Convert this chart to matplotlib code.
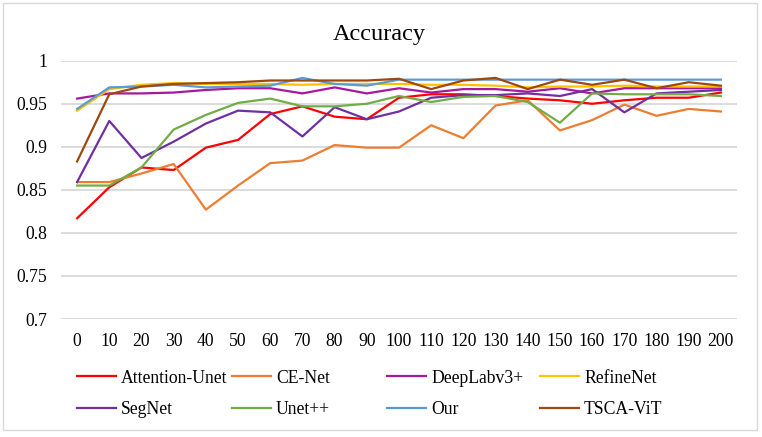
import matplotlib
matplotlib.use("Agg")
import matplotlib.pyplot as plt
from matplotlib.patches import Rectangle

# data
epochs = list(range(0, 201, 10))
attention_unet = [0.817, 0.853, 0.876, 0.873, 0.899, 0.908, 0.938, 0.947, 0.935, 0.932, 0.957,
                  0.961, 0.961, 0.959, 0.956, 0.954, 0.950, 0.954, 0.957, 0.957, 0.963]
ce_net = [0.859, 0.859, 0.869, 0.880, 0.827, 0.855, 0.881, 0.884, 0.902, 0.899, 0.899,
          0.925, 0.910, 0.948, 0.954, 0.919, 0.931, 0.949, 0.936, 0.944, 0.941]
deeplabv3 = [0.956, 0.962, 0.962, 0.963, 0.966, 0.968, 0.968, 0.962, 0.969, 0.962, 0.968,
             0.963, 0.967, 0.967, 0.964, 0.968, 0.962, 0.968, 0.968, 0.968, 0.968]
refinenet = [0.942, 0.967, 0.972, 0.974, 0.973, 0.973, 0.973, 0.972, 0.973, 0.973, 0.973,
             0.972, 0.972, 0.971, 0.969, 0.970, 0.970, 0.971, 0.970, 0.970, 0.970]
segnet = [0.859, 0.930, 0.887, 0.906, 0.927, 0.942, 0.940, 0.912, 0.946, 0.932, 0.941,
          0.957, 0.960, 0.960, 0.962, 0.959, 0.967, 0.940, 0.962, 0.964, 0.966]
unetpp = [0.855, 0.855, 0.876, 0.920, 0.937, 0.951, 0.956, 0.947, 0.947, 0.950, 0.959,
          0.952, 0.958, 0.959, 0.952, 0.928, 0.962, 0.961, 0.961, 0.961, 0.959]
our = [0.944, 0.969, 0.970, 0.972, 0.969, 0.970, 0.971, 0.980, 0.973, 0.971, 0.978,
       0.978, 0.978, 0.978, 0.978, 0.978, 0.978, 0.978, 0.978, 0.978, 0.978]
tsca_vit = [0.883, 0.961, 0.970, 0.973, 0.974, 0.975, 0.977, 0.977, 0.977, 0.977, 0.979,
            0.967, 0.977, 0.980, 0.967, 0.978, 0.972, 0.978, 0.968, 0.975, 0.971]

names = ["Attention-Unet", "CE-Net", "DeepLabv3+", "RefineNet",
         "SegNet", "Unet++", "Our", "TSCA-ViT"]
series = [attention_unet, ce_net, deeplabv3, refinenet, segnet, unetpp, our, tsca_vit]
colors = ["#FF0000", "#ED7D31", "#A6189E", "#FFC000",
          "#7030A0", "#70AD47", "#5B9BD5", "#9E480E"]

y_ticks = [0.7, 0.75, 0.8, 0.85, 0.9, 0.95, 1.0]
y_labels = ["0.7", "0.75", "0.8", "0.85", "0.9", "0.95", "1"]

plt.rcParams["font.family"] = ["Liberation Serif", "DejaVu Serif"]

W, H = 762, 437
fig = plt.figure(figsize=(W / 100, H / 100), dpi=100)

# chart area border
fig.patches.append(Rectangle((3 / W, 1 - 430 / H), 754 / W, 427 / H,
                             transform=fig.transFigure, fill=False,
                             edgecolor="#D9D9D9", lw=1))

ax = fig.add_axes([61 / W, 1 - 319 / H, (737 - 61) / W, (319 - 60.7) / H])

handles = []
for name, vals, c in zip(names, series, colors):
    h, = ax.plot(epochs, vals, color=c, lw=1.6, label=name, clip_on=False)
    handles.append(h)

ax.set_xlim(-5, 205)
ax.set_ylim(0.7, 1.0)
ax.set_xticks(epochs)
ax.set_yticks(y_ticks)
ax.set_yticklabels(y_labels)
ax.tick_params(length=0, labelsize=12.7, pad=10)
ax.grid(axis="y", color="#D9D9D9", lw=1.3)
ax.set_axisbelow(True)
for s in ax.spines.values():
    s.set_visible(False)

fig.text(379 / W, 1 - 40 / H, "Accuracy", ha="center", va="baseline", fontsize=17.5)

# legend: four columns at fixed positions like the original
col_x = [77, 232, 387, 540]
for i, x in enumerate(col_x):
    fig.legend(handles=[handles[i], handles[i + 4]], loc="center left",
               bbox_to_anchor=(x / W, 1 - 394 / H), frameon=False,
               fontsize=12.7, handlelength=2.2, handletextpad=0.3,
               borderpad=0, borderaxespad=0, labelspacing=0.85)

fig.savefig("out.png", dpi=100)
